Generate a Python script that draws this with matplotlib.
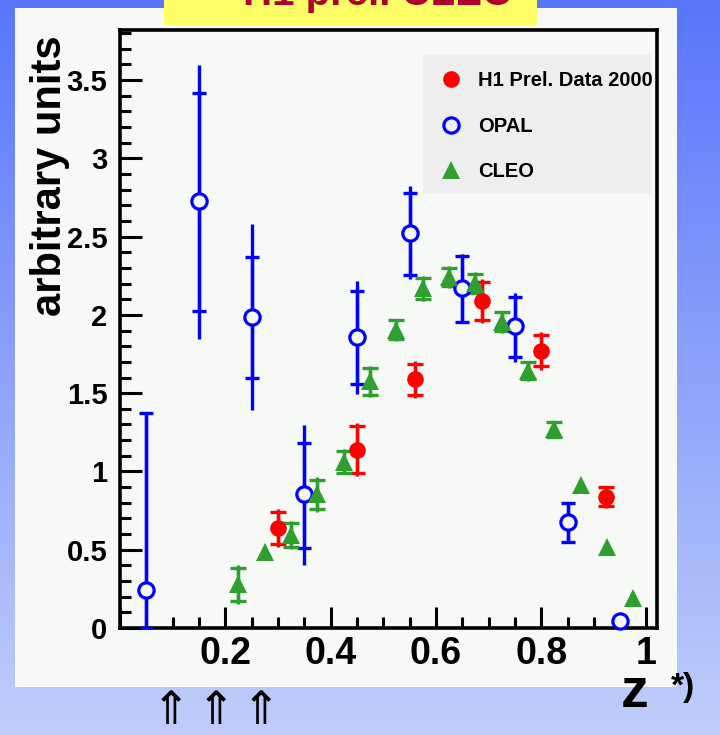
import numpy as np
import matplotlib
matplotlib.use("Agg")
import matplotlib.pyplot as plt
from matplotlib.ticker import MultipleLocator, FuncFormatter
from matplotlib.patches import Rectangle
from matplotlib.lines import Line2D

# ---------------- data ----------------
h1_x = [0.30, 0.45, 0.56, 0.687, 0.80, 0.924]
h1_y = [0.639, 1.139, 1.588, 2.090, 1.771, 0.838]
h1_tot_err = [0.12, 0.17, 0.12, 0.14, 0.12, 0.07]
h1_stat_err = [0.10, 0.15, 0.10, 0.12, 0.10, 0.06]

opal_x = [0.05, 0.15, 0.25, 0.35, 0.45, 0.55, 0.65, 0.75, 0.85, 0.95]
opal_y = [0.243, 2.727, 1.986, 0.856, 1.858, 2.522, 2.171, 1.928, 0.677, 0.047]
opal_tot_hi = [1.373, 3.598, 2.580, 1.296, 2.216, 2.822, 2.388, 2.141, 0.800, 0.070]
opal_tot_lo = [0.000, 1.845, 1.392, 0.402, 1.494, 2.229, 1.948, 1.700, 0.551, 0.020]
opal_stat_hi = [1.373, 3.416, 2.369, 1.181, 2.152, 2.780, 2.375, 2.116, 0.800, 0.070]
opal_stat_lo = [0.000, 2.027, 1.599, 0.511, 1.558, 2.254, 1.956, 1.732, 0.551, 0.020]

cleo_x = [0.225, 0.275, 0.325, 0.375, 0.425, 0.475, 0.525, 0.575,
          0.625, 0.675, 0.725, 0.775, 0.825, 0.875, 0.925, 0.975]
cleo_y = [0.278, 0.485, 0.596, 0.853, 1.061, 1.575, 1.905, 2.169,
          2.243, 2.201, 1.956, 1.643, 1.269, 0.913, 0.519, 0.190]
cleo_err = [0.125, 0.0, 0.09, 0.11, 0.08, 0.10, 0.07, 0.08,
            0.07, 0.07, 0.07, 0.065, 0.055, 0.0, 0.0, 0.0]

legend_labels = ["H1 Prel. Data 2000", "OPAL", "CLEO"]
title_text = "H1 prel. CLEO"

RED = "#ff0000"
BLUE = "#0000ff"
GREEN = "#2fa02f"
PANEL = "#f6f9f6"
FONT = "Liberation Sans"

W, H = 720, 735
fig = plt.figure(figsize=(W / 100, H / 100), dpi=100)

# gradient background
bg = fig.add_axes([0, 0, 1, 1], zorder=-10)
top = np.array([88, 118, 250]) / 255
bot = np.array([193, 206, 251]) / 255
t = np.linspace(0, 1, 256)[:, None]
grad = (top[None, :] * (1 - t) + bot[None, :] * t)[:, None, :]
bg.imshow(grad, aspect="auto", extent=[0, 1, 0, 1])
bg.set_axis_off()

# white panel
fig.patches.append(Rectangle((15 / W, 1 - 687 / H), 662 / W, 679 / H,
                             transform=fig.transFigure, facecolor=PANEL,
                             edgecolor="none", zorder=-5))
# yellow title box
fig.patches.append(Rectangle((164 / W, 1 - 25 / H), 373 / W, 30 / H,
                             transform=fig.transFigure, facecolor="#ffff66",
                             edgecolor="none", zorder=-4))
fig.text(378 / W, 1 - 5 / H, title_text, ha="center", va="baseline",
         fontsize=29, fontweight="bold", color="#b0002a", family=FONT)

ax = fig.add_axes([120 / W, 1 - 628 / H, 537 / W, 598 / H])
ax.set_facecolor(PANEL)
ax.set_xlim(0, 1.02)
ax.set_ylim(0, 3.82)

lw = 2.4

def series(x, y, lo_o, hi_o, lo_i, hi_i, color, capsize):
    x = np.asarray(x); y = np.asarray(y)
    ax.errorbar(x, y, yerr=[y - np.asarray(lo_o), np.asarray(hi_o) - y],
                fmt="none", ecolor=color, elinewidth=lw, capsize=0, zorder=3)
    ax.errorbar(x, y, yerr=[y - np.asarray(lo_i), np.asarray(hi_i) - y],
                fmt="none", ecolor=color, elinewidth=lw, capsize=capsize,
                capthick=lw, zorder=3)

# OPAL
series(opal_x, opal_y, opal_tot_lo, opal_tot_hi, opal_stat_lo, opal_stat_hi, BLUE, 5)
ax.plot(opal_x, opal_y, "o", ms=11, mfc=PANEL, mec=BLUE, mew=2.3,
        zorder=5, clip_on=False)

# H1
hy = np.asarray(h1_y)
series(h1_x, h1_y, hy - np.asarray(h1_tot_err), hy + np.asarray(h1_tot_err),
       hy - np.asarray(h1_stat_err), hy + np.asarray(h1_stat_err), RED, 5.5)
ax.plot(h1_x, h1_y, "o", ms=12, mfc=RED, mec=RED, mew=0, zorder=5)

# CLEO
cy = np.asarray(cleo_y)
ce = np.asarray(cleo_err)
has = ce > 0
cx = np.asarray(cleo_x)
series(cx[has], cy[has], (cy - ce)[has], (cy + ce)[has],
       (cy - ce * 0.85)[has], (cy + ce * 0.85)[has], GREEN, 5.5)
ax.plot(cleo_x, cleo_y, "^", ms=13, mfc=GREEN, mec=GREEN, mew=0, zorder=5)

# axes style
for s in ax.spines.values():
    s.set_linewidth(2.6)
ax.xaxis.set_major_locator(MultipleLocator(0.2))
ax.xaxis.set_minor_locator(MultipleLocator(0.05))
ax.yaxis.set_major_locator(MultipleLocator(0.5))
ax.yaxis.set_minor_locator(MultipleLocator(0.1))
ax.xaxis.set_major_formatter(FuncFormatter(lambda v, p: "" if abs(v) < 1e-9 else f"{v:g}"))
ax.yaxis.set_major_formatter(FuncFormatter(lambda v, p: f"{v:g}"))
ax.tick_params(axis="both", which="both", direction="in", top=False, right=False,
               width=2.2, color="black")
ax.tick_params(axis="x", which="major", length=15, pad=6)
ax.tick_params(axis="x", which="minor", length=8)
ax.tick_params(axis="y", which="major", length=16, pad=9)
ax.tick_params(axis="y", which="minor", length=8)
for lab in ax.get_xticklabels():
    lab.set_fontsize(27); lab.set_fontweight("bold"); lab.set_family(FONT)
for lab in ax.get_yticklabels():
    lab.set_fontsize(21); lab.set_fontweight("bold"); lab.set_family(FONT)

# legend (grey box drawn separately so that text may overhang it, as in the original)
ax.add_patch(Rectangle((0.564, 0.726), 0.425, 0.234, transform=ax.transAxes,
                       facecolor="#eeeeee", edgecolor="none", zorder=1))
handles = [
    Line2D([], [], ls="none", marker="o", ms=12, mfc=RED, mec=RED, mew=0),
    Line2D([], [], ls="none", marker="o", ms=11, mfc="none", mec=BLUE, mew=2.3),
    Line2D([], [], ls="none", marker="^", ms=13, mfc=GREEN, mec=GREEN, mew=0),
]
leg = ax.legend(handles, legend_labels, loc="upper left",
                bbox_to_anchor=(0.564, 0.962), frameon=False,
                prop={"family": FONT, "weight": "bold", "size": 14.5},
                handlelength=1.0, handletextpad=0.85, labelspacing=1.33,
                borderpad=0.9, borderaxespad=0)
leg.set_zorder(6)

# axis labels / annotations
fig.text(50 / W, 1 - 35 / H, "arbitrary units", rotation=90, ha="center", va="top",
         fontsize=30, fontweight="bold", family=FONT)
fig.text(635 / W, 1 - 707 / H, "z", ha="center", va="baseline",
         fontsize=40, fontweight="bold", family=FONT)
fig.text(671 / W, 1 - 696 / H, "*)", ha="left", va="baseline",
         fontsize=24, fontweight="bold", family=FONT)
for px in (171, 216, 261):
    fig.text(px / W, 1 - 734 / H, "\u21d1", ha="center", va="bottom",
             fontsize=33, family="DejaVu Sans", color="black")

fig.savefig("out.png", dpi=100, facecolor=fig.get_facecolor())
